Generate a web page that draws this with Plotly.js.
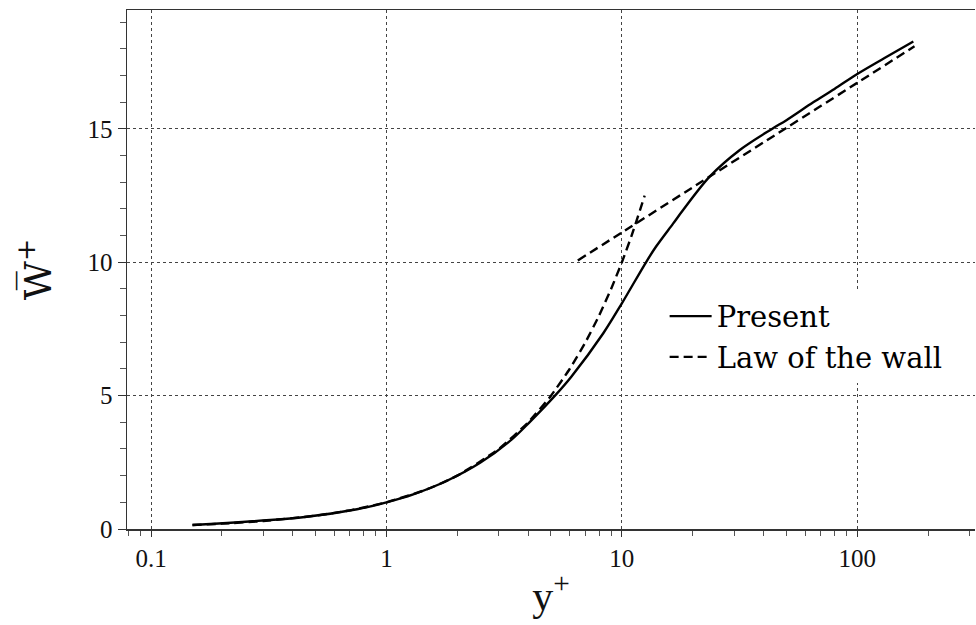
<!DOCTYPE html>
<html>
<head>
<meta charset="utf-8">
<script src="https://cdn.plot.ly/plotly-3.0.1.min.js"></script>
<style>html,body{margin:0;padding:0;background:#fff;}#chart{width:976px;height:625px;}</style>
</head>
<body>
<div id="chart"></div>
<script>
// Present (DNS) profile
const presentX = [0.15, 0.45, 0.75, 1.0, 1.3, 1.8, 2.5, 3.4, 4.05, 5.2, 6.1, 8.34, 10, 12.7, 14, 16.5, 18.2, 23.6, 31.7, 43.4, 50, 65, 80, 100, 130, 173];
const presentY = [0.15, 0.45, 0.74, 1.0, 1.3, 1.8, 2.48, 3.35, 4.0, 5.0, 5.71, 7.34, 8.46, 10.02, 10.6, 11.45, 11.96, 13.21, 14.21, 15.0, 15.33, 16.0, 16.5, 17.06, 17.65, 18.28];

// Law of the wall: viscous sublayer part and log-law part
const viscousX = [0.15, 0.2, 0.3, 0.5, 0.7, 1, 1.5, 2, 3, 4, 5, 6, 7, 8, 9, 10, 11, 12.5];
const viscousY = [0.15, 0.2, 0.3, 0.5, 0.7, 1, 1.5, 2, 3, 4, 5, 6, 7, 8, 9, 10, 11, 12.5];
const logLawX = [6.5, 10, 20, 50, 100, 175];
const logLawY = [10.07, 11.12, 12.81, 15.04, 16.73, 18.1];

const xTickVals = [0.1, 1, 10, 100];
const xTickText = ['0.1', '1', '10', '100'];
const yTickVals = [0, 5, 10, 15];

const lawX = viscousX.concat([null], logLawX);
const lawY = viscousY.concat([null], logLawY);

const traces = [
  {x: presentX, y: presentY, mode: 'lines', name: 'Present',
   line: {color: '#000', width: 2.4, shape: 'spline', smoothing: 0.9}},
  {x: lawX, y: lawY, mode: 'lines', name: 'Law of the wall', connectgaps: false,
   line: {color: '#000', width: 2.4, dash: '9px,5px', shape: 'spline', smoothing: 0.5}}
];

const tickFont = {family: 'Liberation Serif', size: 25, color: '#111'};

const layout = {
  width: 976, height: 625,
  margin: {l: 127, r: 1, t: 10, b: 96},
  paper_bgcolor: '#fff', plot_bgcolor: '#fff',
  showlegend: true,
  legend: {x: 0.634, y: 0.459, xanchor: 'left', yanchor: 'top',
           bgcolor: '#fff', borderwidth: 0, itemwidth: 42,
           font: {family: 'DejaVu Serif', size: 29, color: '#000'},
           tracegroupgap: 0},
  xaxis: {
    type: 'log', range: [-1.102, 2.5],
    tickvals: xTickVals, ticktext: xTickText,
    ticks: 'outside', ticklen: 6, tickcolor: '#333', tickwidth: 1,
    minor: {dtick: 'D1', ticks: 'outside', ticklen: 5, tickcolor: '#555', tickwidth: 1, showgrid: false},
    showgrid: true, gridcolor: '#444', griddash: 'dot', gridwidth: 1,
    showline: true, linecolor: '#333', linewidth: 1.5, mirror: true,
    zeroline: false,
    tickfont: tickFont,
    title: {text: 'y<sup>+</sup>', font: {family: 'Liberation Serif', size: 42, color: '#111'}, standoff: 10}
  },
  yaxis: {
    range: [0, 19.46],
    tickvals: yTickVals,
    ticks: 'outside', ticklen: 8, tickcolor: '#333', tickwidth: 1,
    minor: {dtick: 1, ticks: 'outside', ticklen: 6, tickcolor: '#555', tickwidth: 1, showgrid: false},
    showgrid: true, gridcolor: '#444', griddash: 'dot', gridwidth: 1,
    showline: true, linecolor: '#333', linewidth: 1.5, mirror: false,
    zeroline: false,
    tickfont: tickFont,
    title: {text: 'W\u0305<sup>+</sup>', font: {family: 'DejaVu Serif', size: 38, color: '#111'}, standoff: 24}
  }
};

Plotly.newPlot('chart', traces, layout, {displayModeBar: false, staticPlot: true});
</script>
</body>
</html>
